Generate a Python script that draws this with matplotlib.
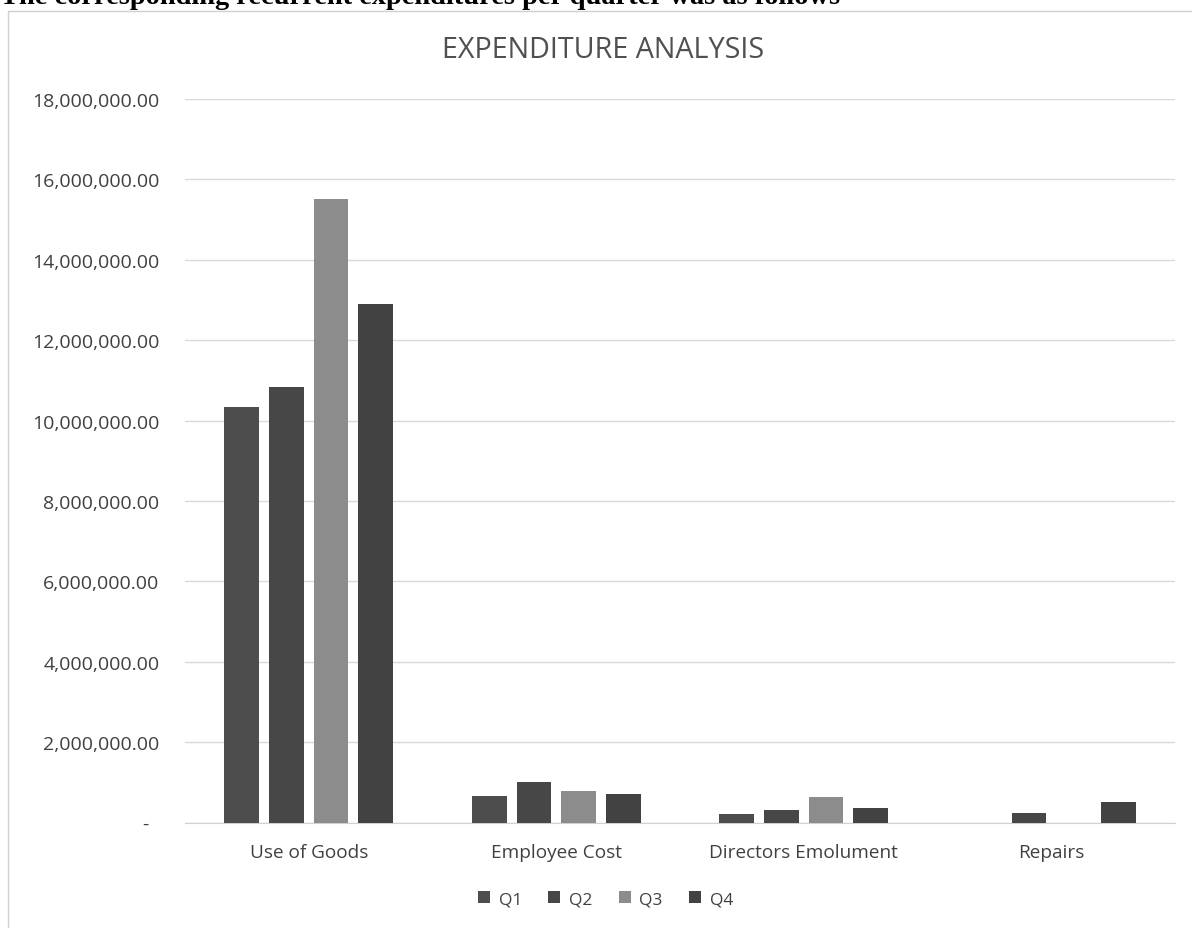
import matplotlib.pyplot as plt
import numpy as np
from matplotlib.patches import Rectangle
from matplotlib.ticker import FuncFormatter

# Data
categories = ['Use of Goods', 'Employee Cost', 'Directors Emolument', 'Repairs']
quarters = ['Q1', 'Q2', 'Q3', 'Q4']
q1 = [10340000, 670000, 220000, 0]
q2 = [10830000, 1000000, 320000, 230000]
q3 = [15510000, 780000, 630000, 0]
q4 = [12900000, 700000, 350000, 520000]
colors = ['#4d4d4d', '#474747', '#8c8c8c', '#424242']

plt.rcParams['font.family'] = ['Open Sans', 'DejaVu Sans']

fig = plt.figure(figsize=(11.92, 9.29), dpi=100)

# chart frame and the cut-off sentence above it
fig.patches.append(Rectangle((8 / 1192, -0.01), 1.02, 1 - 12 / 929 + 0.01,
                             transform=fig.transFigure, fill=False,
                             edgecolor='#d0d0d0', linewidth=1))
fig.text(0.0, 1.003, 'The corresponding recurrent expenditures per quarter was as follows',
         family='Liberation Serif', weight='bold', fontsize=20.4, va='center', ha='left')

ax = fig.add_axes([185 / 1192, 1 - 823.5 / 929, 990 / 1192, (823.5 - 100) / 929])

x = np.arange(len(categories))
width = 0.141
step = 0.18
for i, (vals, name) in enumerate(zip([q1, q2, q3, q4], quarters)):
    ax.bar(x + (i - 1.5) * step, vals, width, color=colors[i], label=name, zorder=3)

ax.set_xlim(-0.5, 3.5)
ax.set_ylim(0, 18000000)
ax.set_yticks(np.arange(0, 18000001, 2000000))
ax.yaxis.set_major_formatter(FuncFormatter(lambda v, p: '-  ' if v == 0 else f'{v:,.2f}'))
ax.set_xticks(x)
ax.set_xticklabels(categories)
ax.tick_params(axis='both', length=0, labelcolor='#404040')
ax.tick_params(axis='x', pad=15, labelsize=13.7)
ax.tick_params(axis='y', pad=18.5, labelsize=14)
ax.grid(axis='y', color='#d9d9d9', linewidth=1, zorder=0)
for s in ['top', 'right', 'left']:
    ax.spines[s].set_visible(False)
ax.spines['bottom'].set_color('#d0d0d0')

fig.text(0.506, 1 - 50 / 929, 'EXPENDITURE ANALYSIS', ha='center', va='center',
         fontsize=20.7, color='#505050')

fig.legend(loc='center', bbox_to_anchor=(0.508, 1 - 900 / 929), ncol=4, frameon=False,
           fontsize=12.5, handlelength=0.7, handleheight=0.7, handletextpad=0.5,
           columnspacing=1.5, labelcolor='#404040')

fig.savefig('out.png', dpi=100)
